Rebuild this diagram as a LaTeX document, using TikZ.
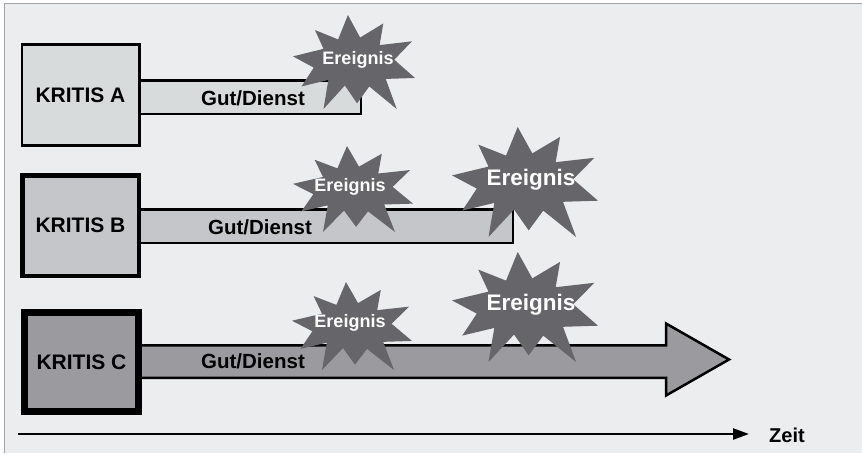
\documentclass[tikz,border=0pt]{standalone}
\usepackage{fontspec}
\setmainfont{Liberation Sans}
\usetikzlibrary{arrows.meta}

\definecolor{panel}{HTML}{ECEDEF}
\definecolor{frameline}{HTML}{A4A5A8}
\definecolor{fillA}{HTML}{D8DBDB}
\definecolor{fillB}{HTML}{C5C6C9}
\definecolor{fillC}{HTML}{9B9A9F}
\definecolor{burstfill}{HTML}{666569}

\tikzset{
  kbox/.style={draw=black, inner sep=0pt, font=\fontsize{21}{24}\selectfont\bfseries},
  band/.style={draw=black, line width=2.5pt, line join=miter},
  goodlabel/.style={inner sep=0pt, font=\fontsize{20.5}{24}\selectfont\bfseries},
  eventlabel/.style={inner sep=0pt, text=white, font=\fontsize{18}{22}\selectfont\bfseries},
  bigeventlabel/.style={eventlabel, font=\fontsize{22.5}{26}\selectfont\bfseries},
  burst/.style={fill=burstfill},
}

% irregular ten-spiked burst, centre (#1,#2), half width #3, half height #4
\newcommand\eventburst[4]{%
  \begin{scope}[shift={(#1,#2)}, xscale=#3, yscale=#4]
    \fill[burst] (-0.10,-1.00) -- (0.10,-0.52) -- (0.48,-0.82) -- (0.42,-0.36)
      -- (0.95,-0.44) -- (0.66,-0.05) -- (1.00,0.34) -- (0.52,0.36)
      -- (0.70,1.00) -- (0.25,0.52) -- (0.05,0.88) -- (-0.15,0.50)
      -- (-0.50,1.00) -- (-0.42,0.38) -- (-0.86,0.52) -- (-0.66,0.12)
      -- (-1.00,-0.12) -- (-0.50,-0.28) -- (-0.64,-0.68) -- (-0.26,-0.48) -- cycle;
  \end{scope}}

\begin{document}
\begin{tikzpicture}[x=1pt, y=-1pt]
  % panel
  \fill[white] (0,0) rectangle (862,453);
  \useasboundingbox (0,0) rectangle (862,453);
  \fill[panel] (4,3) rectangle (862,453);
  \draw[frameline, line width=1pt] (4,453) -- (4,3) -- (862,3);

  % flows of goods and services
  \draw[band, fill=fillA] (139,80.25) rectangle (360.75,113.75);
  \draw[band, fill=fillB] (139,209.25) rectangle (512.75,242.75);
  \draw[band, fill=fillC] (139,345.25) -- (666,345.25) -- (666,323.5) -- (729,359.5)
    -- (666,395.5) -- (666,377.75) -- (139,377.75);

  % infrastructures
  \node[kbox, line width=2.7pt, fill=fillA, minimum width=117.3pt, minimum height=101.3pt]
    (ka) at (80.5,95) {KRITIS A};
  \node[kbox, line width=4.5pt, fill=fillB, minimum width=116.5pt, minimum height=100.5pt]
    (kb) at (80.5,225.5) {KRITIS B};
  \node[kbox, line width=7pt, fill=fillC, minimum width=114pt, minimum height=99pt]
    (kc) at (81.5,362) {KRITIS C};

  \node[goodlabel] (ga) at (253,98) {Gut/Dienst};
  \node[goodlabel] (gb) at (260,227) {Gut/Dienst};
  \node[goodlabel] (gc) at (253,361) {Gut/Dienst};

  % events
  \eventburst{354}{62}{61}{47}
  \eventburst{353}{189}{60}{43}
  \eventburst{525}{182}{73}{55}
  \eventburst{352}{326}{60}{44}
  \eventburst{525}{307}{73}{55}

  \node[eventlabel] (ea) at (358,60) {Ereignis};
  \node[eventlabel] (eb1) at (350,187) {Ereignis};
  \node[bigeventlabel] (eb2) at (531,180) {Ereignis};
  \node[eventlabel] (ec1) at (350,323) {Ereignis};
  \node[bigeventlabel] (ec2) at (531,305) {Ereignis};

  % time axis
  \node[goodlabel, font=\fontsize{20}{24}\selectfont\bfseries, anchor=west] (zeit) at (769,435) {Zeit};
  \coordinate (t0) at (18,434);
  \draw[line width=2.5pt, -{Triangle[length=16pt, width=11pt]}, shorten >=20pt]
    (t0) -- (t0 -| zeit.west);
\end{tikzpicture}
\end{document}
